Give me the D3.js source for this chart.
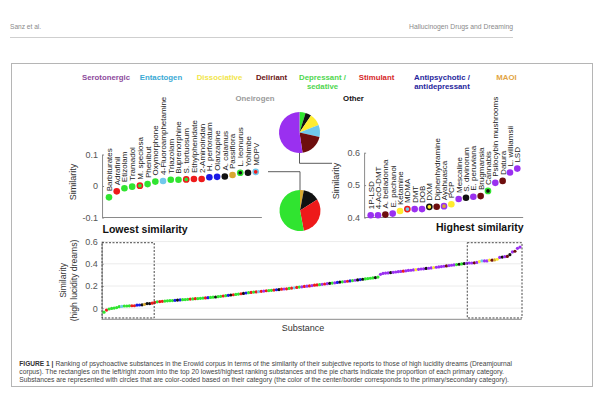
<!DOCTYPE html>
<html>
<head>
<meta charset="utf-8">
<script src="https://cdn.jsdelivr.net/npm/d3@7"></script>
<style>
  body { margin: 0; background: #fff; }
  svg { display: block; font-family: "Liberation Sans", Arial, sans-serif; }
</style>
</head>
<body>
<div class="chart"></div>
<script>
const w = 605, h = 395

// categories
const catCodes = ['S','E','D','L','P','T','A','M','O','K']
const catNames = [['Serotonergic'],['Entactogen'],['Dissociative'],['Deliriant'],['Depressant /','sedative'],
                  ['Stimulant'],['Antipsychotic /','antidepressant'],['MAOI'],['Oneirogen'],['Other']]
const textColors = ['#8d4a9c','#3aa9d4','#f2e64a','#6a1616','#4fd64f','#d62828','#26269c','#e2a444','#9a9a9a','#111111']
const dotColors  = ['#9a30f0','#70c8ec','#ffec30','#6e0e0e','#30e430','#ee1a1a','#1a1ae6','#d8a830','#999999','#111111']

// 20 lowest
const lowNames = ['Barbiturates','Adrafinil','Etizolam','Tramadol','M. speciosa','Phenibut','Oxymorphone','4-Fluoroamphetamine',
                  'Triazolam','Buprenorphine','S. tortuosum','Ethylphenidate','2-Aminoindan','H. perforatum','Olanzapine',
                  'A. calamus','Passiflora','L. leonurus','Yohimbe','MDPV']
const lowValues = [-0.036,-0.017,-0.007,-0.002,0.001,0.006,0.014,0.016,0.020,0.020,0.021,0.022,0.022,0.028,0.029,0.030,0.035,0.042,0.042,0.045]
const lowCats = ['P','T','P','P','P','P','P','E','P','P','P','T','T','A','A','K','M','K','K','T']
const lowRings = ['','','','','T','','','','','','T','','','','','','','P','','E']

// 21 highest
const highNames = ['1P-LSD','4-AcO-DMT','A. belladonna','E. pachanoi','Ketamine','MDMA','DMT','DOB','DXM','Diphenhydramine',
                   'Ayahuasca','PCP','Mescaline','S. divinorum','E. peruviana','Brugmansia','Cannabis','Psilocybin mushrooms',
                   'Datura','L. williamsii','LSD']
const highValues = [0.407,0.407,0.409,0.412,0.420,0.426,0.426,0.426,0.433,0.433,0.435,0.441,0.457,0.461,0.464,0.466,0.482,0.507,0.513,0.539,0.551]
const highCats = ['S','S','L','S','D','E','S','S','D','L','M','D','S','K','S','L','K','S','L','S','S']
const highRings = ['','','','','','T','','','K','','S','','','','','','P','','','','']

// the ranked substances in between
const midValues = [0.052,0.057,0.060,0.062,
  0.064,0.066,0.068,0.069,0.071,0.073,0.075,0.077,0.078,0.080,0.082,0.084,0.086,0.087,0.089,0.091,0.093,0.095,0.097,0.099,0.101,0.104,
  0.107,0.110,0.113,0.116,0.119,0.121,0.124,0.127,0.130,0.133,0.137,0.140,
  0.142,0.145,0.147,0.149,0.152,0.154,0.157,0.159,0.161,0.163,0.166,0.168,0.171,0.173,0.175,0.178,0.181,0.184,0.187,0.190,
  0.193,0.196,0.198,0.201,0.204,0.207,0.210,0.212,0.215,0.218,0.221,0.224,0.226,0.229,0.232,0.235,0.238,0.240,0.243,0.246,
  0.249,0.252,0.255,0.258,0.261,0.264,0.267,0.270,0.273,0.276,0.280,
  0.305,
  0.313,0.316,0.318,0.321,0.323,0.326,0.329,0.331,0.334,0.337,0.340,0.342,0.345,0.347,0.350,0.353,0.355,0.358,0.360,0.363,0.366,
  0.369,0.372,0.375,0.378,0.381,0.384,0.387,0.390,0.393,0.396,0.399,0.402,0.405]
const midCats = ('TPTTPPPPAKAPPPTPTPPPTAPPKP' + 'PTPAKTPPTKAP' + 'TPTETSTPPTAKTSTPTETP' +
                 'STSTSTTPSTSKPSAKPSTAPSKAKPPPPKP' + 'S' + 'SSSKSSSSTSSSSDSSSKSSD' + 'SSSSLSSSPKPKS').split('')

// pies: primary category share
const highPieCats = ['P','K','D','E','L','S']
const highPieShares = [1,1,2,2,4,11]
const lowPieCats = ['M','K','T','P']
const lowPieShares = [3,13,31,53]

const col = c => dotColors[catCodes.indexOf(c)]
const fmt = d => d === 0 ? '0' : d3.format('.1f')(d).replace('\u2212','-')

const svg = d3.select('.chart').append('svg').attr('width', w).attr('height', h)

// page header and frame
svg.append('text').text('Sanz et al.')
   .attr('x',10).attr('y',29).attr('font-size',6.6).attr('fill','#8a8a8a')
svg.append('text').text('Hallucinogen Drugs and Dreaming')
   .attr('x',513).attr('y',29).attr('text-anchor','end').attr('font-size',6.8).attr('fill','#8a8a8a')
svg.append('line').attr('x1',10).attr('x2',513).attr('y1',37.5).attr('y2',37.5).attr('stroke','#cfcfcf')
svg.append('rect').attr('x',11.5).attr('y',63.5).attr('width',581).attr('height',323)
   .attr('fill','none').attr('stroke','#b5b5b5')

// category legend
const legendX = [106,161,219.5,271.5,322.5,376.5,442,506.5,255,353.5]
const legendY = [80,80,80,80,80,80,80,80,100.5,100.5]
catNames.forEach((lines,i) => {
  const t = svg.append('text')
               .attr('text-anchor','middle')
               .attr('font-size',7.8)
               .attr('font-weight','bold')
               .attr('fill',textColors[i])
               .attr('y',legendY[i])
  lines.forEach((s,j) => t.append('tspan').attr('x',legendX[i]).attr('dy', j ? 9.3 : 0).text(s))
})

// zoomed panels
const drawPanel = (names, values, cats, rings, xRange, yDomain, yRange, ticks, titleX, title, titleY) => {
  const x = d3.scaleLinear().domain([0, names.length-1]).range(xRange)
  const y = d3.scaleLinear().domain(yDomain).range(yRange)
  const g = svg.append('g')

  g.append('g')
   .attr('transform',`translate(${x(-0.9)},0)`)
   .call(d3.axisLeft(y).tickValues(ticks).tickFormat(fmt).tickSizeInner(-2).tickSizeOuter(0).tickPadding(4))
   .call(a => a.selectAll('path,line').attr('stroke','#8a8a8a'))
   .call(a => a.selectAll('text').attr('font-size',9).attr('fill','#555').attr('font-family','inherit'))

  g.append('line')
   .attr('x1',x(-0.9)).attr('x2',x(names.length-1+0.8))
   .attr('y1',y(yDomain[0])).attr('y2',y(yDomain[0]))
   .attr('stroke','#8a8a8a')

  g.append('text').text('Similarity')
   .attr('transform',`translate(${titleX},${(yRange[0]+yRange[1])/2 - 4}) rotate(-90)`)
   .attr('text-anchor','middle').attr('font-size',9).attr('fill','#333')

  g.selectAll('.dot')
   .data(values)
   .enter()
   .append('circle')
   .attr('cx',(d,i) => x(i))
   .attr('cy',d => y(d))
   .attr('r',(d,i) => rings[i] ? 2.6 : 3.3)
   .attr('fill',(d,i) => col(cats[i]))
   .attr('stroke',(d,i) => rings[i] ? col(rings[i]) : 'none')
   .attr('stroke-width',1.5)

  g.selectAll('.lab')
   .data(names)
   .enter()
   .append('text')
   .text(d => d)
   .attr('transform',(d,i) => `translate(${x(i)+2.9},${y(values[i])-6}) rotate(-90)`)
   .attr('font-size',8).attr('fill','#222')

  g.append('text').text(title)
   .attr('x',titleY[0]).attr('y',titleY[1])
   .attr('font-size',10.5).attr('font-weight','bold').attr('fill','#111')
}

drawPanel(lowNames, lowValues, lowCats, lowRings, [109,255.7], [-0.1,0.1], [217.5,154.5], [-0.1,0,0.1],
          76, 'Lowest similarity', [102.5,233])
drawPanel(highNames, highValues, highCats, highRings, [370.7,517.3], [0.4,0.6], [217.5,152.7], [0.4,0.5,0.6],
          339, 'Highest similarity', [436,231])

// pies
const arc = d3.arc().innerRadius(0).outerRadius(20.5)
const pie = d3.pie().sort(null).value(d => d.v)
const drawPie = (cats, shares, cx, cy) => {
  svg.append('g')
     .attr('transform',`translate(${cx},${cy})`)
     .selectAll('path')
     .data(pie(cats.map((c,i) => ({c:c, v:shares[i]}))))
     .enter()
     .append('path')
     .attr('d',arc)
     .attr('fill',d => col(d.data.c))
}
drawPie(highPieCats, highPieShares, 299.5, 132.5)
drawPie(lowPieCats, lowPieShares, 300, 210.5)

// connectors from pies to their panels
svg.append('path').attr('d','M299.5,153V163.3H332').attr('fill','none').attr('stroke','#333').attr('stroke-width',0.8)
svg.append('path').attr('d','M300,190V171.7H268').attr('fill','none').attr('stroke','#333').attr('stroke-width',0.8)

// full ranking
const allValues = lowValues.concat(midValues, highValues)
const allCats = lowCats.concat(midCats, highCats)
const n = allValues.length
const bx = d3.scaleLinear().domain([0, n-1]).range([104,520])
const by = d3.scaleLinear().domain([-0.1,0.6]).range([319.3,241.6])
const gridTicks = [0,0.2,0.4,0.6]

const bg = svg.append('g')
bg.selectAll('.grid')
  .data(gridTicks)
  .enter()
  .append('line')
  .attr('x1',101.7).attr('x2',521.7)
  .attr('y1',d => by(d)).attr('y2',d => by(d))
  .attr('stroke','#ececec')

bg.append('g')
  .attr('transform','translate(101.7,0)')
  .call(d3.axisLeft(by).tickValues(gridTicks).tickFormat(fmt).tickSizeInner(-2).tickSizeOuter(0).tickPadding(4))
  .call(a => a.selectAll('path,line').attr('stroke','#8a8a8a'))
  .call(a => a.selectAll('text').attr('font-size',9).attr('fill','#555').attr('font-family','inherit'))

bg.append('line').attr('x1',101.7).attr('x2',521.7).attr('y1',by(-0.1)).attr('y2',by(-0.1)).attr('stroke','#8a8a8a')

const ylab = bg.append('text')
  .attr('transform',`translate(66,${by(0.25)}) rotate(-90)`)
  .attr('text-anchor','middle').attr('font-size',8.6).attr('fill','#333')
ylab.append('tspan').attr('x',0).attr('dy',0).text('Similarity')
ylab.append('tspan').attr('x',0).attr('dy',10.5).text('(high lucidity dreams)')

bg.append('text').text('Substance')
  .attr('x',303).attr('y',330.5).attr('text-anchor','middle').attr('font-size',9).attr('fill','#333')

bg.selectAll('.bead')
  .data(allValues)
  .enter()
  .append('circle')
  .attr('cx',(d,i) => bx(i))
  .attr('cy',d => by(d))
  .attr('r',1.6)
  .attr('fill',(d,i) => col(allCats[i]))

// zoom rectangles
const boxes = [[0, lowValues.length-1], [n-highValues.length, n-1]]
bg.selectAll('.box')
  .data(boxes)
  .enter()
  .append('rect')
  .attr('x',d => bx(d[0]) - 2)
  .attr('y',by(0.59))
  .attr('width',d => bx(d[1]) - bx(d[0]) + 4)
  .attr('height',by(-0.088) - by(0.59))
  .attr('fill','none')
  .attr('stroke','#333')
  .attr('stroke-width',0.9)
  .attr('stroke-dasharray','2,1.5')

// caption
const capLines = [
  'Ranking of psychoactive substances in the Erowid corpus in terms of the similarity of their subjective reports to those of high lucidity dreams (Dreamjournal',
  'corpus). The rectangles on the left/right zoom into the top 20 lowest/highest ranking substances and the pie charts indicate the proportion of each primary category.',
  'Substances are represented with circles that are color-coded based on their category (the color of the center/border corresponds to the primary/secondary category).'
]
const capEnds = [512, 504, 509]
const capBold = svg.append('text').text('FIGURE 1 |')
  .attr('x',19.3).attr('y',366).attr('font-size',6.6).attr('font-weight','bold').attr('fill','#333')
const boldLen = capBold.node().getComputedTextLength()
capLines.forEach((s,i) => {
  const x0 = i === 0 ? 19.3 + boldLen + 2 : 19.3
  svg.append('text').text(s)
     .attr('x',x0).attr('y',366 + i*8)
     .attr('font-size',6.6).attr('fill','#444')
     .attr('textLength',capEnds[i] - x0)
     .attr('lengthAdjust','spacingAndGlyphs')
})
</script>
</body>
</html>
